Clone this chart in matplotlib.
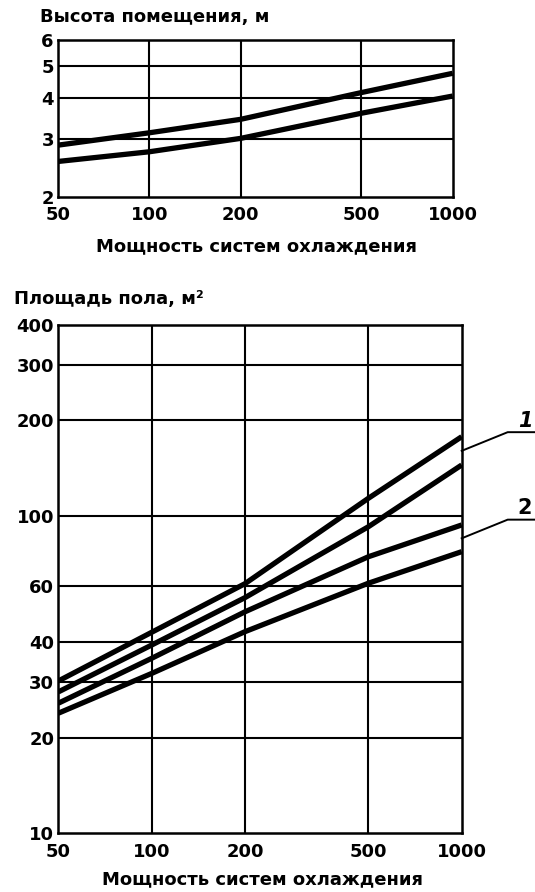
import matplotlib
matplotlib.use("Agg")
import matplotlib.pyplot as plt
from matplotlib.ticker import FixedLocator, FixedFormatter, NullLocator
import numpy as np

# power of the cooling systems (x axis, both charts)
power = [50, 100, 200, 500, 1000]

# room height band, m
height_upper = [2.87, 3.13, 3.44, 4.15, 4.75]
height_lower = [2.56, 2.74, 3.01, 3.59, 4.05]

# floor area bands, m2 (1 and 2)
area1_upper = [30.2, 43.0, 61.2, 113.7, 177.8]
area1_lower = [27.9, 39.2, 55.3, 92.5, 144.8]
area2_upper = [25.7, 35.6, 49.9, 74.4, 93.7]
area2_lower = [23.9, 31.9, 43.2, 61.4, 77.2]

x_ticks = [50, 100, 200, 500, 1000]
x_grid = [100, 200, 500]
h_ticks = [2, 3, 4, 5, 6]
a_ticks = [10, 20, 30, 40, 60, 100, 200, 300, 400]

plt.rcParams["font.family"] = ["DejaVu Sans"]
plt.rcParams["font.weight"] = "bold"

fig = plt.figure(figsize=(5.35, 8.92), dpi=100)

def style_axis(ax, ylim, yticks):
    ax.set_xscale("log")
    ax.set_yscale("log")
    ax.set_xlim(50, 1000)
    ax.set_ylim(*ylim)
    ax.xaxis.set_major_locator(FixedLocator(x_ticks))
    ax.xaxis.set_major_formatter(FixedFormatter([str(v) for v in x_ticks]))
    ax.xaxis.set_minor_locator(NullLocator())
    ax.yaxis.set_major_locator(FixedLocator(yticks))
    ax.yaxis.set_major_formatter(FixedFormatter([str(v) for v in yticks]))
    ax.yaxis.set_minor_locator(NullLocator())
    ax.tick_params(length=0, labelsize=13, pad=3)
    ax.tick_params(axis="x", pad=7)
    for s in ax.spines.values():
        s.set_linewidth(1.8)
        s.set_color("black")
    for xv in x_grid:
        ax.axvline(xv, color="black", lw=1.5, zorder=1)
    for yv in yticks[1:-1]:
        ax.axhline(yv, color="black", lw=1.5, zorder=1)

# top chart: room height
ax1 = fig.add_axes([0.1084, 0.7795, 0.7378, 0.1757])
style_axis(ax1, (2, 6), h_ticks)
for ys in (height_upper, height_lower):
    ax1.plot(power, ys, color="black", lw=3.8, solid_capstyle="butt", zorder=3)

fig.text(40 / 535, 1 - 17 / 892, "Высота помещения, м", fontsize=13,
         va="center", ha="left")
fig.text(257 / 535, 1 - 246 / 892, "Мощность систем охлаждения", fontsize=13,
         va="center", ha="center")

# bottom chart: floor area
ax2 = fig.add_axes([0.109, 0.0658, 0.754, 0.5699])
style_axis(ax2, (10, 400), a_ticks)
for ys in (area1_upper, area1_lower, area2_upper, area2_lower):
    ax2.plot(power, ys, color="black", lw=3.8, solid_capstyle="butt", zorder=3)

# leader lines with band numbers
for label, up, lo in (("1", area1_upper, area1_lower), ("2", area2_upper, area2_lower)):
    y0 = np.sqrt(up[-1] * lo[-1])
    y1 = y0 * 1.145
    ax2.plot([1000, 1407, 1720], [y0, y1, y1], color="black", lw=1.4,
             clip_on=False, zorder=4)
    ax2.text(1600, y1 * 1.01, label, fontsize=15,
             fontstyle="italic" if label == "1" else "normal",
             ha="center", va="bottom", clip_on=False)

fig.text(14 / 535, 1 - 299 / 892, "Площадь пола, м²", fontsize=13,
         va="center", ha="left")
fig.text(262 / 535, 1 - 879 / 892, "Мощность систем охлаждения", fontsize=13,
         va="center", ha="center")

fig.savefig("out.png", dpi=100, facecolor="white")
